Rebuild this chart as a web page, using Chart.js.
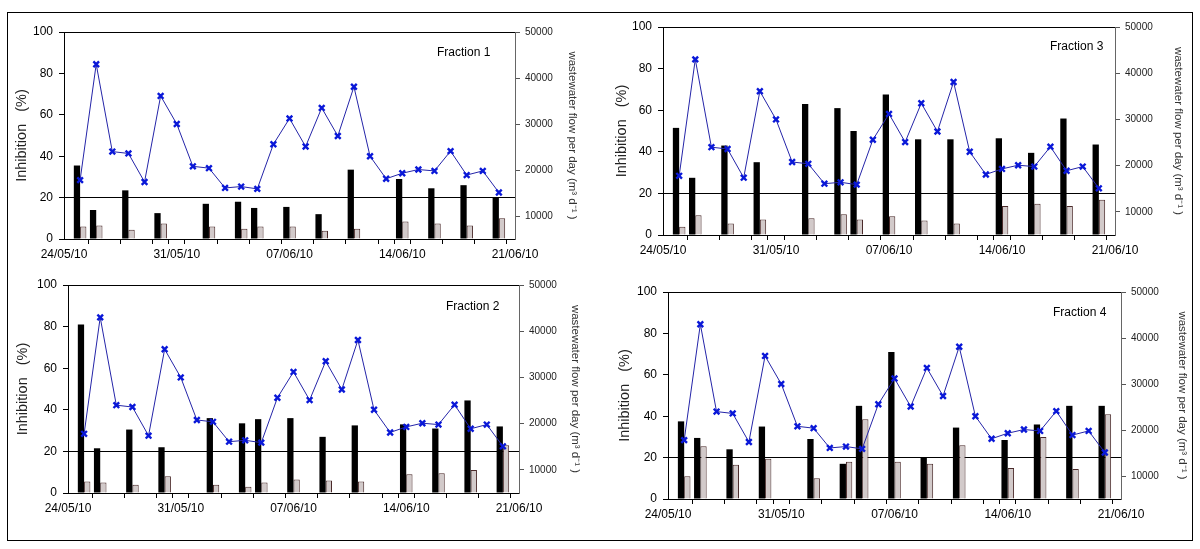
<!DOCTYPE html>
<html>
<head>
<meta charset="utf-8">
<script src="https://cdn.jsdelivr.net/npm/chart.js@4/dist/chart.umd.min.js"></script>
<style>
  body { margin: 0; background: #fff; }
  #page { position: relative; width: 1200px; height: 549px; overflow: hidden; }
  canvas { position: absolute; }
  #frame { position: absolute; left: 7px; top: 12px; width: 1184px; height: 527px; border: 1px solid #000; pointer-events: none; }
</style>
</head>
<body>
<div id="page">
  <canvas id="f1" width="600" height="270" style="left:0;top:0"></canvas>
  <canvas id="f3" width="600" height="270" style="left:600px;top:0"></canvas>
  <canvas id="f2" width="600" height="279" style="left:0;top:270px"></canvas>
  <canvas id="f4" width="600" height="279" style="left:600px;top:270px"></canvas>
  <div id="frame"></div>
</div>
<script>
// x axis: one category per day
const dates = ["24/05/10", "25/05/10", "26/05/10", "27/05/10", "28/05/10", "29/05/10", "30/05/10",
  "31/05/10", "01/06/10", "02/06/10", "03/06/10", "04/06/10", "05/06/10", "06/06/10",
  "07/06/10", "08/06/10", "09/06/10", "10/06/10", "11/06/10", "12/06/10", "13/06/10",
  "14/06/10", "15/06/10", "16/06/10", "17/06/10", "18/06/10", "19/06/10", "20/06/10", "21/06/10"];

// wastewater flow (m3/d), one value per day
const flow = [null, 17800, 43000, 24000, 23600, 17400, 36100, 30000, 20800, 20400, 16100, 16400,
  15900, 25600, 31200, 25100, 33500, 27400, 38100, 23000, 18100, 19300, 20100, 19800, 24100,
  18900, 19800, 15100, null];

// sampling days for the inhibition bars
const sampleDates = ["25/05/10", "26/05/10", "28/05/10", "30/05/10", "02/06/10", "04/06/10", "05/06/10",
  "07/06/10", "09/06/10", "11/06/10", "14/06/10", "16/06/10", "18/06/10", "20/06/10"];

const f1Black = [35.5, 14, 23.5, 12.5, 17, 18, 15, 15.5, 12, 33.5, 29, 24.5, 26, 20];
const f1Grey  = [6, 6.5, 4.5, 7.5, 6, 5, 6, 6, 4, 5, 8.5, 7.5, 6.5, 10];
const f2Black = [81, 21.5, 30.5, 22, 36, 33.5, 35.5, 36, 27, 32.5, 33, 31, 44.5, 32];
const f2Grey  = [5.5, 5, 4, 8, 4, 3, 5, 6.5, 6, 5.5, 9, 9.5, 11, 23];
const f3Black = [51.5, 27.5, 43, 35, 63, 61, 50, 67.5, 46, 46, 46.5, 39.5, 56, 43.5];
const f3Grey  = [4, 9.5, 5.5, 7.5, 8, 10, 7.5, 9, 7, 5.5, 14, 15, 14, 17];
const f4Black = [37.5, 29.5, 24, 35, 29, 17, 45, 71, 20, 34.5, 28.5, 36, 45, 45];
const f4Grey  = [11, 25.5, 16.5, 19.5, 10, 18, 38.5, 18, 17, 26, 15, 30, 14.5, 41];

const leftTicks = [0, 20, 40, 60, 80, 100];
const flowTicks = [10000, 20000, 30000, 40000, 50000];
const threshold = 20;

Chart.defaults.font.family = "'Liberation Sans', Arial, sans-serif";
Chart.defaults.color = "#000";

const fractionLabel = {
  id: "fractionLabel",
  afterDraw(chart, args, opts) {
    const { ctx, chartArea } = chart;
    ctx.save();
    ctx.font = "12px 'Liberation Sans', Arial, sans-serif";
    ctx.fillStyle = "#000";
    ctx.textBaseline = "middle";
    ctx.fillText(opts.text, chartArea.right - opts.dx, chartArea.top + opts.dy);
    ctx.restore();
  }
};

const toPoints = vals => sampleDates.map((d, i) => ({ x: d, y: vals[i] }));

const makeChart = (id, label, black, grey, g) => {
  new Chart(document.getElementById(id), {
    type: "bar",
    data: {
      labels: dates,
      datasets: [
        {
          type: "line",
          data: flow,
          yAxisID: "y1",
          order: 0,
          borderColor: "#2424a8",
          borderWidth: 1,
          pointStyle: "crossRot",
          pointRadius: 4,
          pointBorderWidth: 2.4,
          pointBorderColor: "#0a18d8",
          pointBackgroundColor: "#0a18d8",
          fill: false,
          tension: 0
        },
        {
          data: toPoints(black),
          yAxisID: "y",
          order: 1,
          backgroundColor: "#000",
          borderWidth: 0,
          categoryPercentage: 0.78,
          barPercentage: 1
        },
        {
          data: toPoints(grey),
          yAxisID: "y",
          order: 1,
          backgroundColor: "#d2caca",
          borderColor: "#4a2a2a",
          borderWidth: 1,
          categoryPercentage: 0.78,
          barPercentage: 1
        }
      ]
    },
    options: {
      responsive: false,
      animation: false,
      layout: { padding: { top: g.top, left: 0, right: 0, bottom: 0 } },
      plugins: {
        legend: { display: false },
        tooltip: { enabled: false },
        fractionLabel: { text: label, dx: g.lx, dy: g.ly }
      },
      scales: {
        x: {
          offset: false,
          grid: {
            drawOnChartArea: false,
            tickLength: 5,
            tickColor: c => (c.index % 7 === 0 || c.index % 2 === 0) ? "#000" : "rgba(0,0,0,0)"
          },
          border: { color: "#000" },
          ticks: {
            autoSkip: false,
            maxRotation: 0,
            padding: 3,
            font: { size: 12 },
            callback: function (v, i) { return i % 7 === 0 ? this.getLabelForValue(v) : ""; }
          },
          afterFit: s => { s.height = g.xh; }
        },
        y: {
          position: "left",
          min: 0,
          max: 100,
          afterBuildTicks: s => { s.ticks = leftTicks.map(v => ({ value: v })); },
          grid: {
            color: c => (c.tick.value === threshold || c.tick.value === 100) ? "#000" : "rgba(0,0,0,0)",
            tickColor: "#000",
            tickLength: 5
          },
          border: { color: "#000" },
          ticks: { padding: 6, font: { size: 12 } },
          title: {
            display: true,
            text: "Inhibition   (%)",
            color: "#222",
            font: { size: 14.5 },
            padding: { top: g.tl, bottom: 0 }
          },
          afterFit: s => { s.width = g.yw; }
        },
        y1: {
          position: "right",
          min: 5000,
          max: 50000,
          afterBuildTicks: s => { s.ticks = flowTicks.map(v => ({ value: v })); },
          grid: { drawOnChartArea: false, tickColor: "#555", tickLength: 5 },
          border: { color: "#666" },
          ticks: { padding: 5, font: { size: 10 }, color: "#222", callback: v => String(v) },
          title: {
            display: true,
            text: "wastewater flow per day (m\u00b3 d\u207b\u00b9 )",
            color: "#333",
            font: { size: 11.5 },
            padding: { top: g.tr, bottom: 0 }
          },
          afterFit: s => { s.width = g.y1w; }
        }
      }
    },
    plugins: [fractionLabel]
  });
};

makeChart("f1", "Fraction 1", f1Black, f1Grey, { top: 32, yw: 64, y1w: 85, xh: 31, tl: 13, tr: 21, lx: 78, ly: 21 });
makeChart("f3", "Fraction 3", f3Black, f3Grey, { top: 27, yw: 63, y1w: 85, xh: 35, tl: 13, tr: 15, lx: 65, ly: 20 });
makeChart("f2", "Fraction 2", f2Black, f2Grey, { top: 15, yw: 68, y1w: 81, xh: 56, tl: 14, tr: 18, lx: 73, ly: 22 });
makeChart("f4", "Fraction 4", f4Black, f4Grey, { top: 22, yw: 68, y1w: 79, xh: 50, tl: 16, tr: 11, lx: 68, ly: 21 });
</script>
</body>
</html>
